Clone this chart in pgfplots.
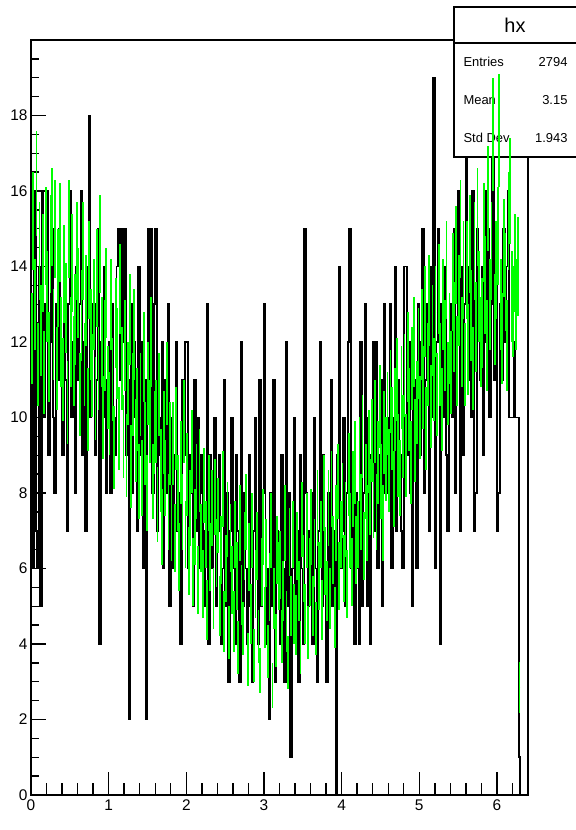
\documentclass[border=0pt]{standalone}
\usepackage{pgfplots}
\pgfplotsset{compat=1.18}
\usepackage{pgfplotstable}
\usepackage{fontspec}
\setmainfont{Liberation Sans}
\definecolor{rgreen}{RGB}{0,255,0}

\pgfplotstableread{
x y
0.00 13
0.02 6
0.04 16
0.06 7
0.08 6
0.10 14
0.12 5
0.14 16
0.16 10
0.18 13
0.20 16
0.22 9
0.24 12
0.26 15
0.28 10
0.30 8
0.32 13
0.34 11
0.36 15
0.38 12
0.40 9
0.42 14
0.44 11
0.46 7
0.48 13
0.50 16
0.52 10
0.54 12
0.56 8
0.58 14
0.60 11
0.62 13
0.64 16
0.66 9
0.68 12
0.70 7
0.72 14
0.74 18
0.76 10
0.78 12
0.80 13
0.82 9
0.84 11
0.86 15
0.88 4
0.90 12
0.92 10
0.94 14
0.96 8
0.98 11
1.00 12
1.02 8
1.04 13
1.06 10
1.08 9
1.10 14
1.12 15
1.14 11
1.16 15
1.18 12
1.20 15
1.22 9
1.24 11
1.26 2
1.28 13
1.30 8
1.32 12
1.34 10
1.36 7
1.38 14
1.40 9
1.42 12
1.44 6
1.46 11
1.48 2
1.50 15
1.52 10
1.54 15
1.56 8
1.58 13
1.60 15
1.62 7
1.64 10
1.66 9
1.68 12
1.70 6
1.72 11
1.74 8
1.76 13
1.78 5
1.80 10
1.82 6
1.84 9
1.86 12
1.88 7
1.90 8
1.92 4
1.94 11
1.96 9
1.98 12
2.00 12
2.02 6
2.04 9
2.06 8
2.08 5
2.10 11
2.12 7
2.14 10
2.16 6
2.18 9
2.20 8
2.22 5
2.24 7
2.26 13
2.28 4
2.30 9
2.32 6
2.34 8
2.36 10
2.38 5
2.40 7
2.42 9
2.44 4
2.46 6
2.48 11
2.50 5
2.52 8
2.54 3
2.56 7
2.58 10
2.60 6
2.62 4
2.64 9
2.66 7
2.68 3
2.70 12
2.72 5
2.74 8
2.76 6
2.78 4
2.80 9
2.82 5
2.84 3
2.86 7
2.88 10
2.90 6
2.92 4
2.94 11
2.96 5
2.98 8
3.00 13
3.02 4
3.04 6
3.06 2
3.08 8
3.10 5
3.12 11
3.14 3
3.16 7
3.18 6
3.20 4
3.22 9
3.24 6
3.26 3
3.28 12
3.30 5
3.32 8
3.34 1
3.36 6
3.38 10
3.40 5
3.42 7
3.44 3
3.46 9
3.48 6
3.50 4
3.52 15
3.54 8
3.56 5
3.58 7
3.60 8
3.62 4
3.64 10
3.66 6
3.68 3
3.70 7
3.72 12
3.74 5
3.76 9
3.78 6
3.80 3
3.82 8
3.84 6
3.86 11
3.88 5
3.90 7
3.92 0
3.94 9
3.96 14
3.98 6
4.00 7
4.02 10
4.04 5
4.06 8
4.08 12
4.10 15
4.12 6
4.14 9
4.16 4
4.18 8
4.20 6
4.22 4
4.24 12
4.26 5
4.28 8
4.30 13
4.32 5
4.34 10
4.36 4
4.38 9
4.40 12
4.42 7
4.44 12
4.46 6
4.48 9
4.50 11
4.52 5
4.54 13
4.56 8
4.58 10
4.60 8
4.62 13
4.64 6
4.66 10
4.68 14
4.70 7
4.72 11
4.74 9
4.76 7
4.78 6
4.80 14
4.82 14
4.84 9
4.86 12
4.88 8
4.90 5
4.92 11
4.94 10
4.96 6
4.98 13
5.00 9
5.02 12
5.04 15
5.06 8
5.08 11
5.10 13
5.12 7
5.14 14
5.16 10
5.18 19
5.20 6
5.22 12
5.24 15
5.26 4
5.28 13
5.30 10
5.32 14
5.34 9
5.36 7
5.38 11
5.40 13
5.42 10
5.44 15
5.46 8
5.48 12
5.50 16
5.52 7
5.54 14
5.56 9
5.58 13
5.60 17
5.62 11
5.64 14
5.66 10
5.68 16
5.70 7
5.72 8
5.74 15
5.76 13
5.78 11
5.80 14
5.82 9
5.84 16
5.86 12
5.88 15
5.90 10
5.92 13
5.94 17
5.96 11
5.98 14
6.00 7
6.02 8
6.04 13
6.06 11
6.08 15
6.10 12
6.12 14
6.14 16
6.16 10
6.18 10
6.20 10
6.22 12
6.24 10
6.26 10
6.28 1
6.30 0
6.32 0
6.34 0
6.36 0
6.38 0
6.40 0
}\blacktab

\pgfplotstableread{
x c e
0.01 12.1 1.2
0.03 15.2 1.3
0.05 13.0 1.2
0.07 16.2 1.4
0.09 11.4 1.1
0.11 14.4 1.3
0.13 12.3 1.2
0.15 14.1 1.3
0.17 11.2 1.1
0.19 14.8 1.3
0.21 13.2 1.2
0.23 11.6 1.2
0.25 14.6 1.3
0.27 15.3 1.3
0.29 12.2 1.2
0.31 15.0 1.3
0.33 11.3 1.1
0.35 13.7 1.3
0.37 14.9 1.3
0.39 12.0 1.2
0.41 11.0 1.1
0.43 13.8 1.3
0.45 12.9 1.2
0.47 10.4 1.1
0.49 15.0 1.3
0.51 12.0 1.2
0.53 14.1 1.3
0.55 11.5 1.2
0.57 12.6 1.2
0.59 14.4 1.3
0.61 13.3 1.2
0.63 10.6 1.1
0.65 12.7 1.2
0.67 14.4 1.3
0.69 11.4 1.1
0.71 13.1 1.2
0.73 10.2 1.1
0.75 13.9 1.3
0.77 12.2 1.2
0.79 11.1 1.1
0.81 13.0 1.2
0.83 10.5 1.1
0.85 13.7 1.3
0.87 11.3 1.1
0.89 14.6 1.3
0.91 12.0 1.2
0.93 10.0 1.1
0.95 11.9 1.2
0.97 13.3 1.2
0.99 10.8 1.1
1.01 10.1 1.1
1.03 13.0 1.2
1.05 11.0 1.1
1.07 9.2 1.1
1.09 12.5 1.2
1.11 11.7 1.2
1.13 9.7 1.1
1.15 13.4 1.2
1.17 11.3 1.1
1.19 9.5 1.1
1.21 11.9 1.2
1.23 9.0 1.1
1.25 10.9 1.1
1.27 12.6 1.2
1.29 8.7 1.1
1.31 10.6 1.1
1.33 12.2 1.2
1.35 9.4 1.1
1.37 10.2 1.1
1.39 8.3 1.0
1.41 10.6 1.1
1.43 8.4 1.0
1.45 11.6 1.2
1.47 9.3 1.1
1.49 8.0 1.0
1.51 10.9 1.1
1.53 9.9 1.1
1.55 12.0 1.2
1.57 8.3 1.0
1.59 9.6 1.1
1.61 9.9 1.1
1.63 7.7 1.0
1.65 10.6 1.1
1.67 8.6 1.1
1.69 7.1 1.0
1.71 9.6 1.1
1.73 8.4 1.0
1.75 10.9 1.1
1.77 7.5 1.0
1.79 9.3 1.1
1.81 7.2 1.0
1.83 9.3 1.1
1.85 6.8 0.9
1.87 9.7 1.1
1.89 8.0 1.0
1.91 6.3 0.9
1.93 8.8 1.1
1.95 7.5 1.0
1.97 9.9 1.1
1.99 6.9 0.9
2.01 8.5 1.1
2.03 6.2 0.9
2.05 7.6 1.0
2.07 9.1 1.1
2.09 5.9 0.9
2.11 7.1 1.0
2.13 8.3 1.0
2.15 5.7 0.9
2.17 8.6 1.1
2.19 6.8 0.9
2.21 5.6 0.9
2.23 8.2 1.0
2.25 6.9 0.9
2.27 4.9 0.8
2.29 8.0 1.0
2.31 6.3 0.9
2.33 7.6 1.0
2.35 5.2 0.8
2.37 7.9 1.0
2.39 6.4 0.9
2.41 7.4 1.0
2.43 5.0 0.8
2.45 6.5 0.9
2.47 8.1 1.0
2.49 4.6 0.8
2.51 6.0 0.9
2.53 7.3 1.0
2.55 4.3 0.7
2.57 6.8 0.9
2.59 5.7 0.9
2.61 4.6 0.8
2.63 6.9 0.9
2.65 5.8 0.9
2.67 3.9 0.7
2.69 7.2 1.0
2.71 5.3 0.8
2.73 4.4 0.7
2.75 6.6 0.9
2.77 7.5 1.0
2.79 3.6 0.7
2.81 6.3 0.9
2.83 4.8 0.8
2.85 7.0 1.0
2.87 3.7 0.7
2.89 5.6 0.9
2.91 6.6 0.9
2.93 4.2 0.7
2.95 3.3 0.6
2.97 5.9 0.9
2.99 7.1 1.0
3.01 4.7 0.8
3.03 6.4 0.9
3.05 3.8 0.7
3.07 5.5 0.9
3.09 7.0 1.0
3.11 2.9 0.6
3.13 5.2 0.8
3.15 4.1 0.7
3.17 6.5 0.9
3.19 5.8 0.9
3.21 6.1 0.9
3.23 4.2 0.7
3.25 5.4 0.8
3.27 7.2 1.0
3.29 4.6 0.8
3.31 3.5 0.7
3.33 6.7 0.9
3.35 5.0 0.8
3.37 6.9 0.9
3.39 4.8 0.8
3.41 4.5 0.8
3.43 6.6 0.9
3.45 5.4 0.8
3.47 3.9 0.7
3.49 7.3 1.0
3.51 6.0 0.9
3.53 4.8 0.8
3.55 7.0 1.0
3.57 4.3 0.7
3.59 5.9 0.9
3.61 7.1 1.0
3.63 5.0 0.8
3.65 6.4 0.9
3.67 4.4 0.7
3.69 7.6 1.0
3.71 5.8 0.9
3.73 6.9 0.9
3.75 4.9 0.8
3.77 8.0 1.0
3.79 6.2 0.9
3.81 5.4 0.8
3.83 7.6 1.0
3.85 5.2 0.8
3.87 8.1 1.0
3.89 6.5 0.9
3.91 4.7 0.8
3.93 7.2 1.0
3.95 8.3 1.0
3.97 5.8 0.9
3.99 6.9 0.9
4.01 7.8 1.0
4.03 6.0 0.9
4.05 7.3 1.0
4.07 5.6 0.9
4.09 8.5 1.1
4.11 7.0 1.0
4.13 5.9 0.9
4.15 8.1 1.0
4.17 8.8 1.1
4.19 6.5 0.9
4.21 6.9 0.9
4.23 8.9 1.1
4.25 7.5 1.0
4.27 9.5 1.1
4.29 6.6 0.9
4.31 8.3 1.0
4.33 7.2 1.0
4.35 9.1 1.1
4.37 7.9 1.0
4.39 9.4 1.1
4.41 7.8 1.0
4.43 9.9 1.1
4.45 7.5 1.0
4.47 8.8 1.1
4.49 10.3 1.1
4.51 8.3 1.0
4.53 7.2 1.0
4.55 9.6 1.1
4.57 8.9 1.1
4.59 10.1 1.1
4.61 8.6 1.1
4.63 10.7 1.1
4.65 9.7 1.1
4.67 8.1 1.0
4.69 10.2 1.1
4.71 11.0 1.1
4.73 9.0 1.1
4.75 8.4 1.0
4.77 10.8 1.1
4.79 9.5 1.1
4.81 11.1 1.1
4.83 9.0 1.1
4.85 11.6 1.2
4.87 10.2 1.1
4.89 8.8 1.1
4.91 11.3 1.1
4.93 12.0 1.2
4.95 9.4 1.1
4.97 10.4 1.1
4.99 11.7 1.2
5.01 10.0 1.1
5.03 12.2 1.2
5.05 10.8 1.1
5.07 12.8 1.2
5.09 9.7 1.1
5.11 11.4 1.1
5.13 13.1 1.2
5.15 10.3 1.1
5.17 12.3 1.2
5.19 11.0 1.1
5.21 12.8 1.2
5.23 10.6 1.1
5.25 13.4 1.2
5.27 11.4 1.1
5.29 10.2 1.1
5.31 13.0 1.2
5.33 11.9 1.2
5.35 13.9 1.3
5.37 10.9 1.1
5.39 12.1 1.2
5.41 11.2 1.1
5.43 13.6 1.3
5.45 12.4 1.2
5.47 14.3 1.3
5.49 11.5 1.2
5.51 13.1 1.2
5.53 15.0 1.3
5.55 12.0 1.2
5.57 13.9 1.3
5.59 11.4 1.1
5.61 13.9 1.3
5.63 11.8 1.2
5.65 14.6 1.3
5.67 12.7 1.2
5.69 11.3 1.1
5.71 14.4 1.3
5.73 12.4 1.2
5.75 15.3 1.3
5.77 13.2 1.2
5.79 12.0 1.2
5.81 12.5 1.2
5.83 14.9 1.3
5.85 13.5 1.3
5.87 11.9 1.2
5.89 15.8 1.4
5.91 13.0 1.2
5.93 14.4 1.3
5.95 17.5 1.5
5.97 12.6 1.2
5.99 13.9 1.3
6.01 14.8 1.3
6.03 17.6 1.5
6.05 13.0 1.2
6.07 12.1 1.2
6.09 14.5 1.3
6.11 13.6 1.3
6.13 11.9 1.2
6.15 15.2 1.3
6.17 16.0 1.4
6.19 13.2 1.2
6.21 12.8 1.2
6.23 14.1 1.3
6.25 13.0 1.2
6.27 14.0 1.3
6.29 2.85 0.67
}\greentab

\begin{document}
\begin{tikzpicture}
\pgfplotsset{
  rootframe/.style={
    scale only axis, width=497bp, height=755bp,
    xmin=0, xmax=6.4, ymin=0, ymax=20,
    axis line style={line width=1.6bp, black},
    tick pos=left, tick align=inside,
    every tick/.style={line width=1.4bp, black},
    tick label style={font=\fontsize{15.5}{18}\selectfont, black},
    /pgf/number format/assume math mode=true,
  }
}
% x axis ticks (longer), frame and black histogram
\begin{axis}[
  rootframe,
  xtick={0,1,2,3,4,5,6},
  minor xtick={0.2,0.4,0.6,0.8,1.2,1.4,1.6,1.8,2.2,2.4,2.6,2.8,3.2,3.4,3.6,3.8,4.2,4.4,4.6,4.8,5.2,5.4,5.6,5.8,6.2},
  ytick=\empty,
  major tick length=23bp, minor tick length=11.5bp,
  xticklabel style={yshift=-1bp},
]
\addplot[const plot mark left, black, line width=1.8bp] table[x=x, y=y] {\blacktab};
\end{axis}
% y axis ticks (shorter)
\begin{axis}[
  rootframe,
  hide x axis,
  ytick={0,2,4,6,8,10,12,14,16,18},
  minor ytick={0.5,1,1.5,2.5,3,3.5,4.5,5,5.5,6.5,7,7.5,8.5,9,9.5,10.5,11,11.5,12.5,13,13.5,14.5,15,15.5,16.5,17,17.5,18.5,19,19.5},
  major tick length=15bp, minor tick length=7.5bp,
]
\addplot[draw=none, forget plot] coordinates {(0,0)};
\end{axis}
% statistics box
\filldraw[fill=white, draw=black, line width=1.4bp] (423bp,638bp) rectangle (547bp,788bp);
\draw[line width=1.4bp] (423bp,752bp) -- (547bp,752bp);
\node[font=\fontsize{20}{24}\selectfont, anchor=center] at (484bp,770bp) {hx};
\node[font=\fontsize{13}{15}\selectfont, anchor=west] at (429bp,733bp) {Entries};
\node[font=\fontsize{13}{15}\selectfont, anchor=east] at (540bp,733bp) {2794};
\node[font=\fontsize{13}{15}\selectfont, anchor=west] at (429bp,695bp) {Mean};
\node[font=\fontsize{13}{15}\selectfont, anchor=east] at (540bp,695bp) {3.15};
\node[font=\fontsize{13}{15}\selectfont, anchor=west] at (429bp,657bp) {Std Dev};
\node[font=\fontsize{13}{15}\selectfont, anchor=east] at (540bp,657bp) {1.943};
% green histogram with errors, drawn over the box
\begin{axis}[
  scale only axis, width=497bp, height=755bp,
  xmin=0, xmax=6.4, ymin=0, ymax=20,
  hide axis, clip=false,
]
\addplot[only marks, mark=-, mark size=0.8bp, rgreen, line width=1.5bp,
  error bars/.cd, y dir=both, y explicit, error mark=none,
  error bar style={line width=1.8bp, rgreen}]
  table[x=x, y=c, y error=e] {\greentab};
\end{axis}
\pgfresetboundingbox
\useasboundingbox (-31bp,-35bp) rectangle (545bp,795bp);
\end{tikzpicture}
\end{document}
